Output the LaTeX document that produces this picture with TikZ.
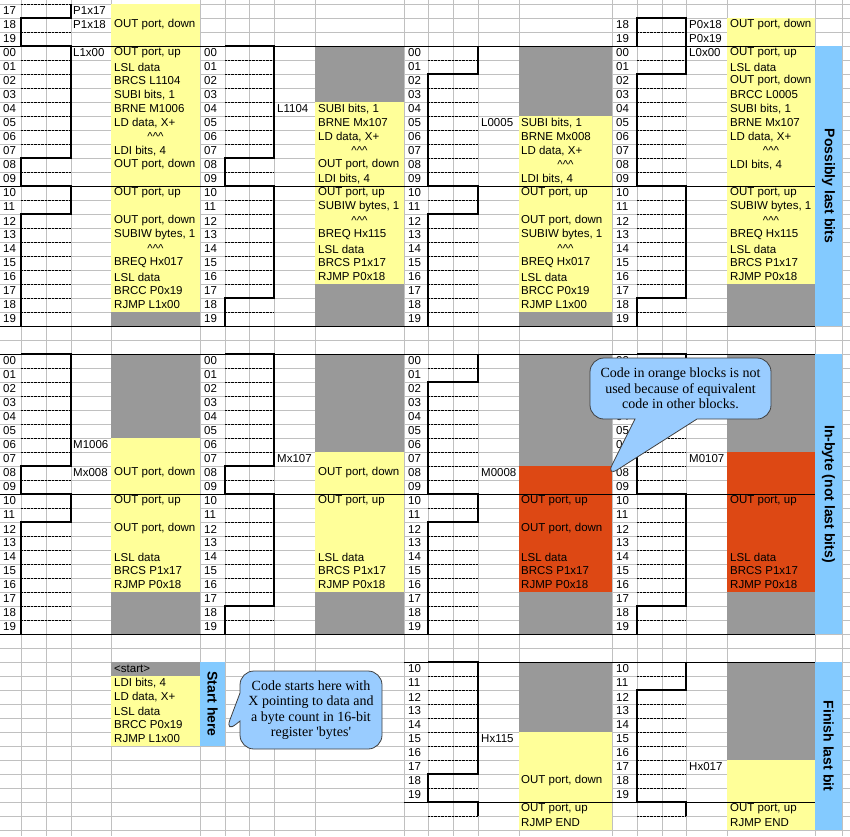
\documentclass[tikz,border=0pt]{standalone}
\usepackage{fontspec}
\setmainfont{Liberation Sans}
\newfontfamily\notefont{Liberation Serif}
\usetikzlibrary{shapes.callouts}
\definecolor{codeyel}{RGB}{255,255,153}
\definecolor{deadgray}{RGB}{153,153,153}
\definecolor{unusedor}{RGB}{221,72,20}
\definecolor{barblue}{RGB}{131,202,255}
\definecolor{noteblue}{RGB}{153,204,255}
\definecolor{gridgray}{RGB}{192,192,192}
\newcommand\carets{\textasciicircum\textasciicircum\textasciicircum}
\newcommand\twodig[1]{\ifnum#1<10 0\fi#1}
\tikzset{
  cell/.style={anchor=west,inner sep=1pt,font=\fontsize{11.5}{13}\selectfont},
  caret/.style={inner sep=1pt,font=\fontsize{11.5}{13}\selectfont},
  bartext/.style={rotate=-90,font=\fontsize{14}{16}\selectfont\bfseries},
  wave/.style={line width=1.6pt,line join=miter},
  section/.style={line width=0.9pt},
  note/.style={rectangle callout,draw=black!75,fill=noteblue,line width=0.8pt,
    rounded corners=14pt,align=center,font=\notefont\fontsize{14}{15.5}\selectfont}
}
\begin{document}
\begin{tikzpicture}[x=1pt,y=-14pt]
\useasboundingbox (0pt,4pt) rectangle (850pt,-832pt);

% spreadsheet grid
\foreach \k in {0,...,59} \draw[gridgray] (0,\k) -- (850,\k);
\foreach \c in {21,46,71,111,200,225,249,274,315,404,428,453,478,519,612,637,662,686,727,815,842}
  \draw[gridgray] (\c pt,4pt) -- (\c pt,-832pt);

% code blocks
\fill[codeyel] (111,0) rectangle (200,22);
\fill[deadgray] (111,22) rectangle (200,23);
\fill[deadgray] (111,25) rectangle (200,31);
\fill[codeyel] (111,31) rectangle (200,42);
\fill[deadgray] (111,42) rectangle (200,45);
\fill[deadgray] (111,47) rectangle (200,48);
\fill[codeyel] (111,48) rectangle (200,53);

\fill[deadgray] (315,3) rectangle (404,7);
\fill[codeyel] (315,7) rectangle (404,20);
\fill[deadgray] (315,20) rectangle (404,23);
\fill[deadgray] (315,25) rectangle (404,32);
\fill[codeyel] (315,32) rectangle (404,42);
\fill[deadgray] (315,42) rectangle (404,45);

\fill[deadgray] (519,3) rectangle (612,8);
\fill[codeyel] (519,8) rectangle (612,22);
\fill[deadgray] (519,22) rectangle (612,23);
\fill[deadgray] (519,25) rectangle (612,33);
\fill[unusedor] (519,33) rectangle (612,42);
\fill[deadgray] (519,42) rectangle (612,45);
\fill[deadgray] (519,47) rectangle (612,52);
\fill[codeyel] (519,52) rectangle (612,59);

\fill[codeyel] (727,1) rectangle (815,20);
\fill[deadgray] (727,20) rectangle (815,23);
\fill[deadgray] (727,25) rectangle (815,32);
\fill[unusedor] (727,32) rectangle (815,42);
\fill[deadgray] (727,42) rectangle (815,45);
\fill[deadgray] (727,47) rectangle (815,54);
\fill[codeyel] (727,54) rectangle (815,59);

% side bars
\fill[barblue] (815,3) rectangle (842,23);
\fill[barblue] (815,25) rectangle (842,45);
\fill[barblue] (815,47) rectangle (842,59);
\fill[barblue] (200,47) rectangle (225,53);
\node[bartext] (barlast) at (828.5,13) {Possibly last bits};
\node[bartext] (barbyte) at (828.5,35) {In-byte (not last bits)};
\node[bartext] (barfin) at (828.5,53) {Finish last bit};
\node[bartext] (barstart) at (212.5,50) {Start here};

% dotted cell rows
\foreach \k in {0,...,22} \draw[densely dotted] (21,\k) -- (71,\k);
\foreach \k in {4,...,22} {\draw[densely dotted] (225,\k) -- (274,\k);
  \draw[densely dotted] (428,\k) -- (478,\k);}
\foreach \k in {2,...,22} \draw[densely dotted] (637,\k) -- (686,\k);
\foreach \k in {26,...,44} {\draw[densely dotted] (21,\k) -- (71,\k);
  \draw[densely dotted] (225,\k) -- (274,\k);
  \draw[densely dotted] (428,\k) -- (478,\k);
  \draw[densely dotted] (637,\k) -- (686,\k);}
\foreach \k in {48,...,56,58} {\draw[densely dotted] (428,\k) -- (478,\k);
  \draw[densely dotted] (637,\k) -- (686,\k);}

% section borders
\foreach \k in {3,13,23,25,35,45} \draw[section] (0,\k) -- (815,\k);
\foreach \k in {47,57} \draw[section] (404,\k) -- (815,\k);

% bit waveforms
\draw[wave] (71,0) -- (71,1) -- (21,1) -- (21,3) -- (71,3) -- (71,11) -- (21,11) -- (21,13)
  -- (71,13) -- (71,15) -- (21,15) -- (21,23);
\draw[wave] (225,3) -- (274,3) -- (274,11) -- (225,11) -- (225,13) -- (274,13) -- (274,21)
  -- (225,21) -- (225,23);
\draw[wave] (478,3) -- (478,5) -- (428,5) -- (428,13) -- (478,13) -- (478,15) -- (428,15) -- (428,23);
\draw[wave] (637,3) -- (637,1) -- (686,1) -- (686,5) -- (637,5) -- (637,13) -- (686,13)
  -- (686,21) -- (637,21) -- (637,23);
\draw[wave] (21,25) -- (71,25) -- (71,33) -- (21,33) -- (21,35) -- (71,35) -- (71,37) -- (21,37) -- (21,45);
\draw[wave] (225,25) -- (274,25) -- (274,33) -- (225,33) -- (225,35) -- (274,35) -- (274,43)
  -- (225,43) -- (225,45);
\draw[wave] (478,25) -- (478,27) -- (428,27) -- (428,35) -- (478,35) -- (478,37) -- (428,37) -- (428,45);
\draw[wave] (637,25) -- (686,25) -- (686,27) -- (637,27) -- (637,35) -- (686,35) -- (686,43)
  -- (637,43) -- (637,45);
\draw[wave] (428,47) -- (478,47) -- (478,55) -- (428,55) -- (428,57) -- (478,57) -- (478,58);
\draw[wave] (686,47) -- (686,49) -- (637,49) -- (637,57) -- (686,57) -- (686,58);

% row numbers
\foreach \r in {0,...,19} {
  \node[cell] (na\r) at (2,\r+3.5) {\twodig{\r}};
  \node[cell] (nb\r) at (203,\r+3.5) {\twodig{\r}};
  \node[cell] (nc\r) at (407,\r+3.5) {\twodig{\r}};
  \node[cell] (nd\r) at (615,\r+3.5) {\twodig{\r}};
  \node[cell] (ne\r) at (2,\r+25.5) {\twodig{\r}};
  \node[cell] (nf\r) at (203,\r+25.5) {\twodig{\r}};
  \node[cell] (ng\r) at (407,\r+25.5) {\twodig{\r}};
  \node[cell] (nh\r) at (615,\r+25.5) {\twodig{\r}};}
\foreach \r in {10,...,19} {
  \node[cell] (ni\r) at (407,\r+37.5) {\r};
  \node[cell] (nj\r) at (615,\r+37.5) {\r};}
\foreach \r [count=\i from 0] in {17,18,19} \node[cell] (nk\r) at (2,\i+.5) {\r};
\foreach \r [count=\i] in {18,19} \node[cell] (nl\r) at (615,\i+.5) {\r};

% jump labels
\foreach \k/\lbl in {0/P1x17,1/P1x18,3/L1x00,31/M1006,33/Mx008} \node[cell] (l\lbl) at (72,\k+.5) {\lbl};
\foreach \k/\lbl in {7/L1104,32/Mx107} \node[cell] (l\lbl) at (276,\k+.5) {\lbl};
\foreach \k/\lbl in {8/L0005,33/M0008,52/Hx115} \node[cell] (l\lbl) at (480,\k+.5) {\lbl};
\foreach \k/\lbl in {1/P0x18,2/P0x19,3/L0x00,32/M0107,54/Hx017} \node[cell] (l\lbl) at (688,\k+.5) {\lbl};

% code lines
\foreach \k/\txt [count=\i] in {1/{OUT port, down},3/{OUT port, up},4/{LSL data},5/{BRCS L1104},
  6/{SUBI bits, 1},7/{BRNE M1006},8/{LD data, X+},10/{LDI bits, 4},11/{OUT port, down},
  13/{OUT port, up},15/{OUT port, down},16/{SUBIW bytes, 1},18/{BREQ Hx017},19/{LSL data},
  20/{BRCC P0x19},21/{RJMP L1x00},33/{OUT port, down},35/{OUT port, up},37/{OUT port, down},
  39/{LSL data},40/{BRCS P1x17},41/{RJMP P0x18},47/{<start>},48/{LDI bits, 4},
  49/{LD data, X+},50/{LSL data},51/{BRCC P0x19},52/{RJMP L1x00}}
  \node[cell] (ca\i) at (113,\k+.5) {\txt};
\foreach \k/\txt [count=\i] in {7/{SUBI bits, 1},8/{BRNE Mx107},9/{LD data, X+},11/{OUT port, down},
  12/{LDI bits, 4},13/{OUT port, up},14/{SUBIW bytes, 1},16/{BREQ Hx115},17/{LSL data},
  18/{BRCS P1x17},19/{RJMP P0x18},33/{OUT port, down},35/{OUT port, up},39/{LSL data},
  40/{BRCS P1x17},41/{RJMP P0x18}}
  \node[cell] (cb\i) at (317,\k+.5) {\txt};
\foreach \k/\txt [count=\i] in {8/{SUBI bits, 1},9/{BRNE Mx008},10/{LD data, X+},12/{LDI bits, 4},
  13/{OUT port, up},15/{OUT port, down},16/{SUBIW bytes, 1},18/{BREQ Hx017},19/{LSL data},
  20/{BRCC P0x19},21/{RJMP L1x00},35/{OUT port, up},37/{OUT port, down},39/{LSL data},
  40/{BRCS P1x17},41/{RJMP P0x18},55/{OUT port, down},57/{OUT port, up},58/{RJMP END}}
  \node[cell] (cc\i) at (520,\k+.5) {\txt};
\foreach \k/\txt [count=\i] in {1/{OUT port, down},3/{OUT port, up},4/{LSL data},5/{OUT port, down},
  6/{BRCC L0005},7/{SUBI bits, 1},8/{BRNE Mx107},9/{LD data, X+},11/{LDI bits, 4},
  13/{OUT port, up},14/{SUBIW bytes, 1},16/{BREQ Hx115},17/{LSL data},18/{BRCS P1x17},
  19/{RJMP P0x18},35/{OUT port, up},39/{LSL data},40/{BRCS P1x17},41/{RJMP P0x18},
  57/{OUT port, up},58/{RJMP END}}
  \node[cell] (cd\i) at (729,\k+.5) {\txt};
\foreach \x/\k [count=\i] in {155.5/9,155.5/17,359.5/10,359.5/15,565.5/11,565.5/17,771/10,771/15}
  \node[caret] (up\i) at (\x,\k+.5) {\carets};

% notes
\node[note,minimum width=181pt,minimum height=61pt,callout pointer width=62pt,
  callout absolute pointer={(606pt,-473pt)}]
  (orangenote) at (680.5pt,-384.5pt) {Code in orange blocks is not\\used because of equivalent\\code in other blocks.};
\node[note,minimum width=142pt,minimum height=78pt,callout pointer width=28pt,
  callout absolute pointer={(225pt,-729pt)}]
  (startnote) at (311pt,-706pt) {Code starts here with\\X pointing to data and\\a byte count in 16-bit\\register 'bytes'};
\end{tikzpicture}
\end{document}
